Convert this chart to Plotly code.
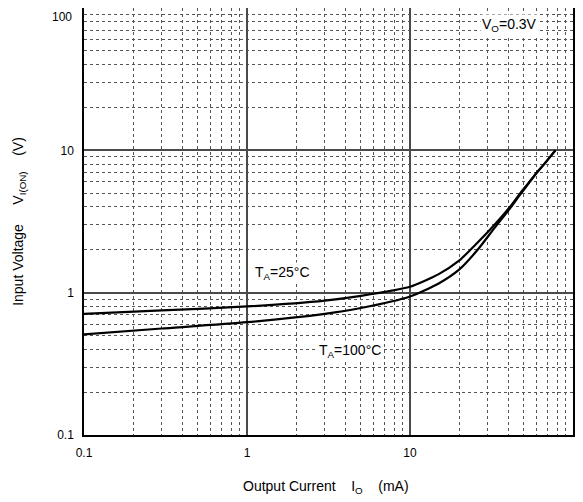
import plotly.graph_objects as go
import math

# Output current (mA) and input voltage (V)
current_25 = [0.1, 0.3, 1, 3, 5, 10, 15, 20, 23.5, 27, 33, 41, 47.5, 54, 60, 66.5, 78]
voltage_25 = [0.71, 0.75, 0.80, 0.88, 0.95, 1.10, 1.35, 1.68, 2.0, 2.35, 3.0, 4.0, 5.0, 6.0, 7.0, 8.0, 10.0]

current_100 = [0.1, 0.3, 1, 3, 5, 10, 15, 20, 26, 33, 41, 47.5, 54, 60, 66.5, 78]
voltage_100 = [0.51, 0.56, 0.62, 0.71, 0.78, 0.94, 1.16, 1.45, 2.0, 2.85, 3.9, 4.9, 5.95, 6.95, 8.0, 10.0]

x_tick_vals = [0.1, 1, 10, 100]
x_tick_text = ["0.1", "1", "10", "100"]
y_tick_vals = [0.1, 1, 10]
y_tick_text = ["0.1", "1", "10"]
y_top_label = "100"
minor_vals = [m * d for d in [0.1, 1, 10] for m in range(2, 10)]

FONT = "Liberation Sans, Arial, sans-serif"
SP = lambda n: "&nbsp;" * n

fig = go.Figure()
for xs, ys in [(current_25, voltage_25), (current_100, voltage_100)]:
    fig.add_trace(go.Scatter(x=xs, y=ys, mode="lines",
                             line=dict(color="black", width=2.2, shape="spline", smoothing=0.6),
                             showlegend=False))

axis_common = dict(
    type="log", range=[-1, 2],
    showgrid=True, gridcolor="#4a4a4a", gridwidth=2,
    showline=True, linecolor="black", linewidth=1.5, mirror=True,
    ticks="", zeroline=False, automargin=False,
    tickfont=dict(family=FONT, size=12, color="black"),
    minor=dict(tickvals=minor_vals, showgrid=True, gridcolor="#555555",
               griddash="dot", gridwidth=1, ticks=""),
)

fig.update_xaxes(**axis_common, tickvals=x_tick_vals, ticktext=x_tick_text,
                 ticklabelstandoff=6)
fig.update_yaxes(**axis_common, tickvals=y_tick_vals + [100], ticktext=y_tick_text + [""],
                 ticklabelstandoff=6,
                 title=dict(text="Input Voltage" + SP(5) + "V<sub>I(ON)</sub>" + SP(4) + "(V)",
                            font=dict(family=FONT, size=14, color="black"), standoff=30))

# x axis title, placed like the reference
fig.add_annotation(xref="paper", yref="paper", x=0.495, y=-0.122, xanchor="center", yanchor="middle",
                   text="Output Current" + SP(4) + "I<sub>O</sub>" + SP(4) + "(mA)", showarrow=False,
                   font=dict(family=FONT, size=14, color="black"))

# top y tick label, nudged down as in the reference
fig.add_annotation(xref="paper", yref="paper", x=0, y=1, xanchor="right", yanchor="top",
                   xshift=-10, yshift=0, text=y_top_label, showarrow=False,
                   font=dict(family=FONT, size=12, color="black"))

ann_font = dict(family=FONT, size=14, color="black")
fig.add_annotation(x=math.log10(1.66), y=math.log10(1.38), text="T<sub>A</sub>=25°C",
                   showarrow=False, font=ann_font, bgcolor="white")
fig.add_annotation(x=math.log10(4.29), y=math.log10(0.39), text="T<sub>A</sub>=100°C",
                   showarrow=False, font=ann_font, bgcolor="white")
fig.add_annotation(x=math.log10(40.5), y=math.log10(75.9), text="V<sub>O</sub>=0.3V",
                   showarrow=False, font=ann_font, bgcolor="white")

fig.update_layout(
    width=575, height=494,
    margin=dict(l=76, r=10, t=0, b=67),
    paper_bgcolor="white", plot_bgcolor="white",
    font=dict(family=FONT, color="black"),
)

fig.write_html("out.html")
